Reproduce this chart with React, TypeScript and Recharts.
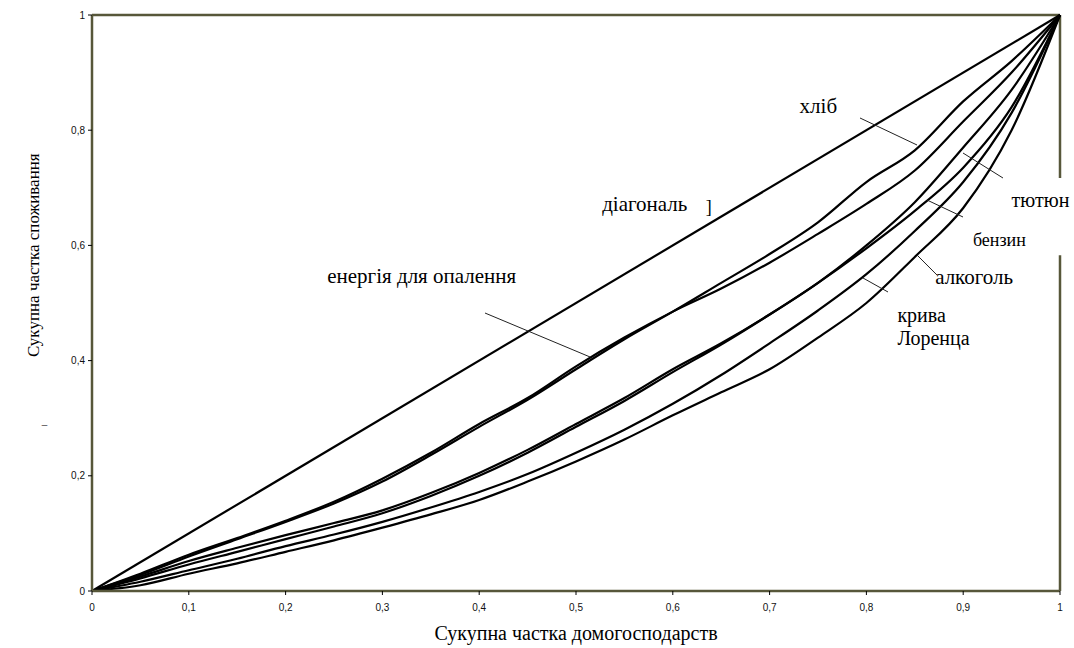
import { LineChart, Line, XAxis, YAxis, ReferenceLine, ReferenceDot } from 'recharts';

// shared x grid (cumulative share of households)
const xGrid = [0, 0.05, 0.1, 0.15, 0.2, 0.25, 0.3, 0.35, 0.4, 0.45, 0.5, 0.55, 0.6, 0.65, 0.7, 0.75, 0.8, 0.85, 0.9, 0.95, 1];

const diagX = [0, 1];
const diagY = [0, 1];

const energy = [0, 0.03, 0.063, 0.092, 0.122, 0.155, 0.195, 0.24, 0.29, 0.335, 0.39, 0.44, 0.485, 0.525, 0.57, 0.62, 0.672, 0.73, 0.815, 0.9, 1];
const bread = [0, 0.028, 0.06, 0.09, 0.12, 0.152, 0.19, 0.236, 0.285, 0.332, 0.385, 0.437, 0.485, 0.535, 0.585, 0.64, 0.71, 0.765, 0.85, 0.92, 1];
const tobacco = [0, 0.025, 0.052, 0.075, 0.097, 0.118, 0.14, 0.17, 0.205, 0.245, 0.29, 0.335, 0.385, 0.43, 0.48, 0.535, 0.6, 0.675, 0.77, 0.87, 1];
const petrol = [0, 0.022, 0.046, 0.068, 0.09, 0.112, 0.135, 0.165, 0.2, 0.24, 0.285, 0.33, 0.38, 0.428, 0.48, 0.535, 0.595, 0.66, 0.735, 0.84, 1];
const lorenz = [0, 0.016, 0.036, 0.056, 0.078, 0.098, 0.12, 0.145, 0.172, 0.203, 0.24, 0.28, 0.325, 0.375, 0.43, 0.487, 0.55, 0.625, 0.71, 0.83, 1];
const alcohol = [0, 0.01, 0.03, 0.048, 0.068, 0.088, 0.11, 0.133, 0.158, 0.19, 0.225, 0.263, 0.305, 0.345, 0.385, 0.44, 0.5, 0.58, 0.665, 0.8, 1];

const xTicks = [0, 0.1, 0.2, 0.3, 0.4, 0.5, 0.6, 0.7, 0.8, 0.9, 1];
const yTicks = [0, 0.2, 0.4, 0.6, 0.8, 1];

const curves = [
  { name: 'діагональ', xs: diagX, ys: diagY },
  { name: 'енергія для опалення', xs: xGrid, ys: energy },
  { name: 'хліб', xs: xGrid, ys: bread },
  { name: 'тютюн', xs: xGrid, ys: tobacco },
  { name: 'бензин', xs: xGrid, ys: petrol },
  { name: 'крива Лоренца', xs: xGrid, ys: lorenz },
  { name: 'алкоголь', xs: xGrid, ys: alcohol },
];

// text notes, in data units (x, y = left end of baseline)
const notes = [
  { text: 'хліб', x: 0.731, y: 0.83, size: 21 },
  { text: 'діагональ', x: 0.527, y: 0.66, size: 21 },
  { text: ']', x: 0.634, y: 0.656, size: 18 },
  { text: 'енергія для опалення', x: 0.243, y: 0.535, size: 21 },
  { text: 'тютюн', x: 0.95, y: 0.667, size: 20 },
  { text: 'бензин', x: 0.91, y: 0.599, size: 18 },
  { text: 'алкоголь', x: 0.871, y: 0.533, size: 21 },
  { text: 'крива', x: 0.832, y: 0.467, size: 20 },
  { text: 'Лоренца', x: 0.832, y: 0.427, size: 20 },
  { text: '–', x: -0.052, y: 0.283, size: 11 },
];

// pointer lines from curves to their labels
const pointers = [
  [0.7934, 0.8212, 0.8523, 0.7743],
  [0.8998, 0.7604, 0.9411, 0.717],
  [0.8626, 0.6788, 0.8998, 0.6493],
  [0.8523, 0.5833, 0.8729, 0.5486],
  [0.7965, 0.5434, 0.8223, 0.5191],
  [0.406, 0.4826, 0.5145, 0.4063],
];

const olive = '#57573a';
const serif = '"Liberation Serif", "Times New Roman", serif';
const sans = '"Liberation Sans", Arial, sans-serif';

const fmt = (v: number) => String(v).replace('.', ',');

export default function App() {
  return (
    <div style={{ background: '#fff', width: 1074, height: 648, overflow: 'hidden' }}>
      <style>{'body { margin: 0; }'}</style>
      <LineChart width={1074} height={648} margin={{ top: 15, right: 14, bottom: 27, left: 32 }}>
        <XAxis
          type="number"
          dataKey="x"
          domain={[0, 1]}
          ticks={xTicks}
          tickFormatter={fmt}
          height={30}
          tickSize={4}
          tickMargin={9}
          axisLine={{ stroke: olive, strokeWidth: 2.5 }}
          tickLine={{ stroke: '#000' }}
          tick={{ fontFamily: sans, fontSize: 10, fill: '#111' }}
        />
        <YAxis
          type="number"
          domain={[0, 1]}
          ticks={yTicks}
          tickFormatter={fmt}
          width={60}
          tickSize={4}
          tickMargin={3}
          axisLine={{ stroke: olive, strokeWidth: 2.5 }}
          tickLine={{ stroke: '#000' }}
          tick={{ fontFamily: sans, fontSize: 10, fill: '#111' }}
        />
        <ReferenceLine y={1} stroke={olive} strokeWidth={2.5} />
        <ReferenceLine segment={[{ x: 1, y: 1 }, { x: 1, y: 0.717 }]} stroke={olive} strokeWidth={2.5} />
        <ReferenceLine segment={[{ x: 1, y: 0.583 }, { x: 1, y: 0 }]} stroke={olive} strokeWidth={2.5} />
        {curves.map((c) => (
          <Line
            key={c.name}
            name={c.name}
            data={c.xs.map((x, i) => ({ x, y: c.ys[i] }))}
            dataKey="y"
            type="monotone"
            stroke="#000"
            strokeWidth={2.2}
            dot={false}
            isAnimationActive={false}
          />
        ))}
        {pointers.map((p, i) => (
          <ReferenceLine
            key={'p' + i}
            segment={[{ x: p[0], y: p[1] }, { x: p[2], y: p[3] }]}
            stroke="#222"
            strokeWidth={1}
            ifOverflow="visible"
          />
        ))}
        {notes.map((n, i) => (
          <ReferenceDot
            key={'n' + i}
            x={n.x}
            y={n.y}
            r={0}
            ifOverflow="visible"
            shape={(p: any) => (
              <text x={p.cx} y={p.cy} fontFamily={serif} fontSize={n.size} fill="#000">
                {n.text}
              </text>
            )}
          />
        ))}
        <ReferenceDot
          x={0.5}
          y={-0.085}
          r={0}
          ifOverflow="visible"
          shape={(p: any) => (
            <text x={p.cx} y={p.cy} textAnchor="middle" fontFamily={serif} fontSize={20} fill="#000">
              Сукупна частка домогосподарств
            </text>
          )}
        />
        <ReferenceDot
          x={-0.055}
          y={0.583}
          r={0}
          ifOverflow="visible"
          shape={(p: any) => (
            <text
              x={p.cx}
              y={p.cy}
              textAnchor="middle"
              transform={`rotate(-90 ${p.cx} ${p.cy})`}
              fontFamily={serif}
              fontSize={17}
              fill="#000"
            >
              Сукупна частка споживання
            </text>
          )}
        />
      </LineChart>
    </div>
  );
}
